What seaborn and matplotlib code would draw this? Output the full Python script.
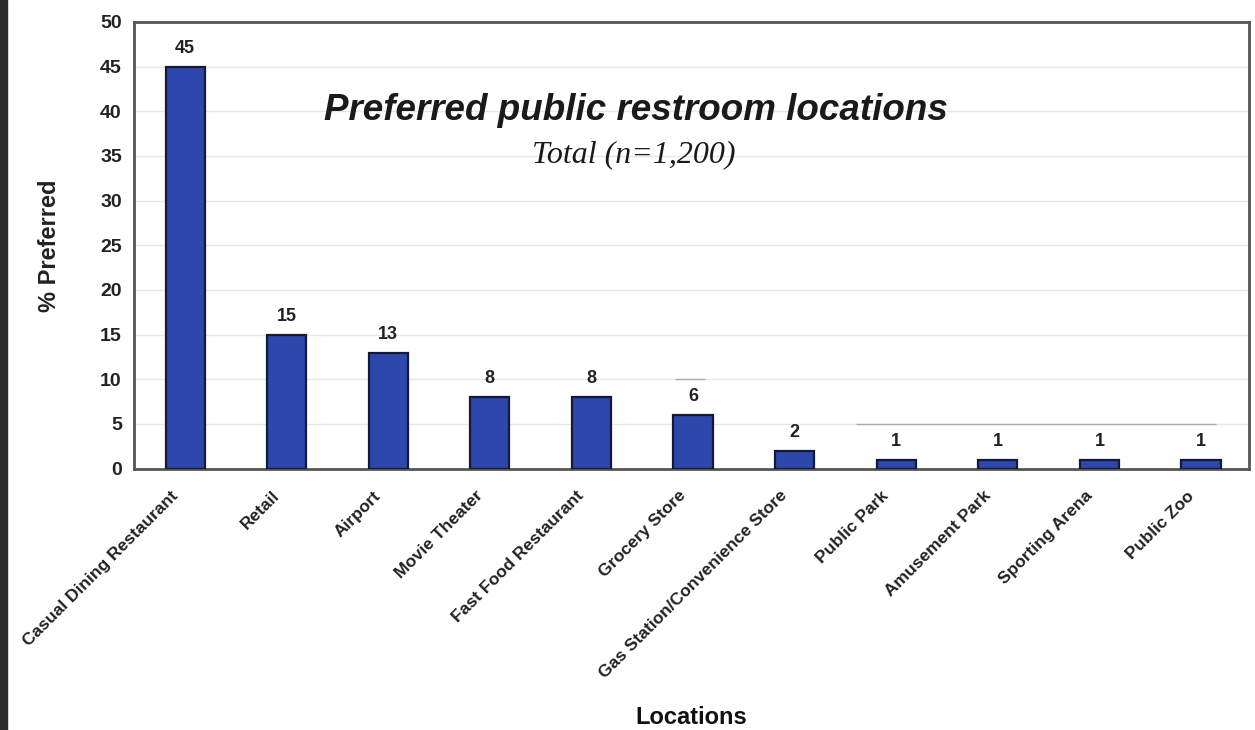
import matplotlib
matplotlib.use("Agg")
import matplotlib.pyplot as plt
import matplotlib.transforms as mtransforms
import seaborn as sns
import pandas as pd

# data
locations = ["Casual Dining Restaurant", "Retail", "Airport", "Movie Theater",
             "Fast Food Restaurant", "Grocery Store", "Gas Station/Convenience Store",
             "Public Park", "Amusement Park", "Sporting Arena", "Public Zoo"]
pct_preferred = [45, 15, 13, 8, 8, 6, 2, 1, 1, 1, 1]

df = pd.DataFrame({"Location": locations, "Pct": pct_preferred})

sns.set_theme(style="white")
plt.rcParams["font.family"] = ["Liberation Sans", "DejaVu Sans"]

fig = plt.figure(figsize=(12.55, 7.30), dpi=100)
ax = fig.add_axes([0.107, 0.358, 0.888, 0.612])

sns.barplot(data=df, x="Location", y="Pct", color="#2d47ad", saturation=1,
            width=0.385, edgecolor="#141a33", linewidth=1.6, ax=ax, zorder=3)

ax.set_ylim(0, 50)
ax.set_yticks(range(0, 51, 5))
ax.set_xlim(-0.5, 10.47)
ax.yaxis.grid(True, color="#e6e6e6", linewidth=1)
ax.set_axisbelow(True)
for s in ax.spines.values():
    s.set_color("#555555")
    s.set_linewidth(2)

# stray darker rule segments seen in the source
ax.hlines(10, 4.82, 5.12, color="#aaaaaa", linewidth=1, zorder=2)
ax.hlines(5, 6.6, 10.15, color="#aaaaaa", linewidth=1, zorder=2)

ax.tick_params(axis="y", labelsize=14, length=0, pad=9, labelcolor="#222222")
ax.tick_params(axis="x", labelsize=12.5, length=0, pad=14, labelcolor="#222222")
for lbl in ax.get_yticklabels():
    lbl.set_fontweight("bold")
ax.set_xticks(range(len(locations)))
ax.set_xticklabels(locations, rotation=45, ha="right", rotation_mode="anchor",
                   fontweight="bold")
shift = mtransforms.ScaledTranslation(-15 / 100, 0, fig.dpi_scale_trans)
for lbl in ax.get_xticklabels():
    lbl.set_transform(lbl.get_transform() + shift)

# value labels
for i, v in enumerate(pct_preferred):
    ax.text(i, v + 1.1, str(v), ha="center", va="bottom",
            fontsize=13, fontweight="bold", color="#222222")

ax.set_ylabel("% Preferred", fontsize=17, fontweight="bold", color="#222222")
ax.yaxis.set_label_coords(-0.066, 0.5)
ax.set_xlabel("")
fig.text(0.5506, 0.0178, "Locations", ha="center", va="center",
         fontsize=17, fontweight="bold", color="#111111")

# titles inside the plot area
fig.text(0.507, 0.836, "Preferred public restroom locations", ha="center",
         va="baseline", fontsize=26.5, fontweight="bold", style="italic",
         family=["Liberation Sans", "DejaVu Sans"], color="#1a1a1a")
fig.text(0.505, 0.778, "Total (n=1,200)", ha="center", va="baseline",
         fontsize=23, style="italic",
         family=["Liberation Serif", "DejaVu Serif"], color="#1a1a1a")

# dark strip on the left edge
fig.patches.append(plt.Rectangle((0, 0), 0.0056, 1, transform=fig.transFigure,
                                 color="#2a2a2a", zorder=5))

fig.savefig("out.png", dpi=100)
